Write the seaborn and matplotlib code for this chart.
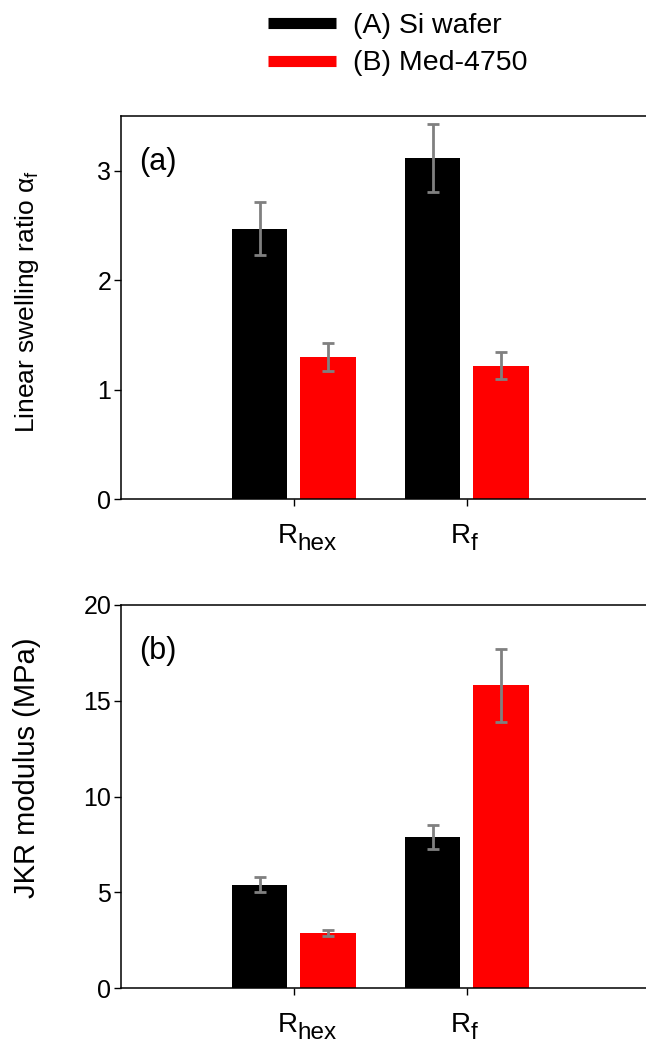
import pandas as pd
import seaborn as sns
import matplotlib.pyplot as plt
from matplotlib.lines import Line2D

# data
categories = ['Rhex', 'Rf']
tick_main = ['R', 'R']
tick_sub = ['hex', 'f']
substrates = ['(A) Si wafer', '(B) Med-4750']
colors = ['black', 'red']

swell_si = [2.47, 3.12]
swell_si_err = [0.24, 0.31]
swell_med = [1.30, 1.22]
swell_med_err = [0.13, 0.12]

jkr_si = [5.4, 7.9]
jkr_si_err = [0.38, 0.62]
jkr_med = [2.9, 15.8]
jkr_med_err = [0.16, 1.9]


def make_frame(si, med):
    """Long-form table of one panel's values."""
    return pd.DataFrame({
        'cat': categories * 2,
        'sub': [substrates[0]] * 2 + [substrates[1]] * 2,
        'val': si + med,
    })


def draw_panel(ax, si, si_err, med, med_err, ylim, yticks, ylabel,
               ylabel_size, ylabel_y, tag):
    """Grouped bar chart with gray error bars on one axes."""
    df = make_frame(si, med)
    sns.barplot(data=df, x='cat', y='val', hue='sub', order=categories,
                hue_order=substrates, palette=colors, width=0.79, gap=0.19,
                saturation=1, errorbar=None, legend=False, linewidth=0,
                ax=ax)
    errs = [si_err, med_err]
    for cont, err in zip(ax.containers, errs):
        xs = [b.get_x() + b.get_width() / 2 for b in cont]
        hs = [b.get_height() for b in cont]
        ax.errorbar(xs, hs, yerr=err, fmt='none', ecolor='#808080',
                    elinewidth=2, capsize=4.5, capthick=2, zorder=3)
    ax.set_xlim(-1, 2.035)
    ax.set_ylim(*ylim)
    ax.set_yticks(yticks)
    ax.set_xticks(range(len(categories)))
    ax.set_xticklabels([])
    ax.set_xlabel('')
    # category labels: big R with a large, low subscript
    for i, (main, sub) in enumerate(zip(tick_main, tick_sub)):
        ax.annotate(main, xy=(i, 0), xycoords=('data', 'axes fraction'),
                    xytext=(2.5, -31.5), textcoords='offset points',
                    ha='right', va='baseline', fontsize=20,
                    annotation_clip=False)
        ax.annotate(sub, xy=(i, 0), xycoords=('data', 'axes fraction'),
                    xytext=(2.5, -36.5), textcoords='offset points',
                    ha='left', va='baseline', fontsize=17.5,
                    annotation_clip=False)
    ax.set_ylabel(ylabel, fontsize=ylabel_size)
    ax.yaxis.set_label_coords(-0.152, ylabel_y)
    ax.tick_params(axis='y', labelsize=18, direction='out', length=5,
                   width=1, pad=2)
    ax.tick_params(axis='x', direction='out', length=5, width=1)
    for side in ['left', 'bottom', 'top']:
        ax.spines[side].set_visible(True)
        ax.spines[side].set_linewidth(1.1)
        ax.spines[side].set_color('black')
    ax.spines['right'].set_visible(False)
    ax.text(0.035, 0.88, tag, transform=ax.transAxes, fontsize=22,
            va='center', ha='left')


def main():
    sns.set_theme(style='ticks')
    plt.rcParams['font.family'] = ['Liberation Sans', 'DejaVu Sans']
    plt.rcParams['mathtext.fontset'] = 'custom'
    plt.rcParams['mathtext.rm'] = 'Liberation Sans'
    plt.rcParams['mathtext.it'] = 'Liberation Sans:italic'
    for key in ['text.color', 'axes.labelcolor', 'xtick.color',
                'ytick.color']:
        plt.rcParams[key] = 'black'

    fig = plt.figure(figsize=(6.46, 10.44), dpi=100)
    ax_a = fig.add_axes([0.1873, 0.522, 0.8127, 0.3669])
    ax_b = fig.add_axes([0.1873, 0.0534, 0.8127, 0.3672])

    draw_panel(ax_a, swell_si, swell_si_err, swell_med, swell_med_err,
               (0, 3.5), [0, 1, 2, 3],
               r'Linear swelling ratio α$_\mathregular{f}$', 19, 0.515,
               '(a)')
    draw_panel(ax_b, jkr_si, jkr_si_err, jkr_med, jkr_med_err,
               (0, 20), [0, 5, 10, 15, 20], 'JKR modulus (MPa)', 21,
               0.575, '(b)')

    handles = [Line2D([], [], color=c, lw=8, solid_capstyle='butt')
               for c in colors]
    fig.legend(handles, substrates, loc='upper left',
               bbox_to_anchor=(268 / 646, 0.988), frameon=False,
               fontsize=20.5, handlelength=2.4, handletextpad=0.6,
               labelspacing=0.42, borderpad=0, borderaxespad=0)

    fig.savefig('out.png', dpi=100)


if __name__ == '__main__':
    main()
